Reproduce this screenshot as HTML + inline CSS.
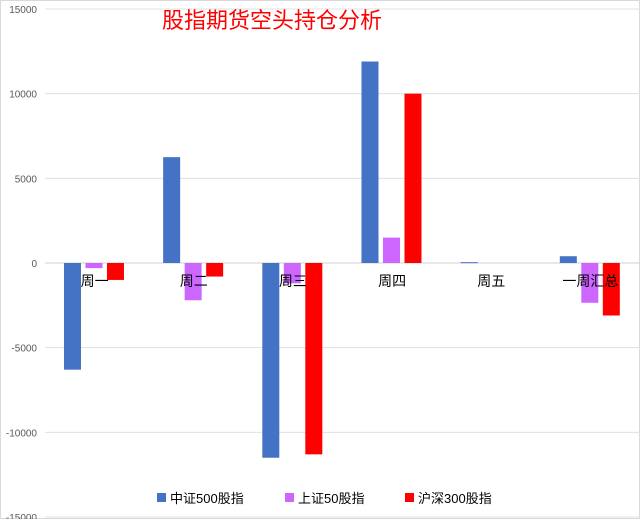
<!DOCTYPE html>
<html><head><meta charset="utf-8"><style>
html,body{margin:0;padding:0;background:#fff;}
body{width:640px;height:519px;overflow:hidden;font-family:"Liberation Sans","Noto Sans CJK SC",sans-serif;}
</style></head><body>
<svg id="chart" width="640" height="519" xmlns="http://www.w3.org/2000/svg" style="font-family:'Liberation Sans','Noto Sans CJK SC',sans-serif">
<rect x="0.5" y="0.5" width="639" height="518" fill="#fff" stroke="#d9d9d9"/>
<g id="grid"></g><g id="bars"></g><g id="labels"></g>
<text x="272" y="28" text-anchor="middle" font-size="22" fill="#ff0000">股指期货空头持仓分析</text>
<g font-size="13" fill="#000">
<rect x="157" y="493" width="9" height="9" fill="#4472c4"/>
<text x="170" y="503">中证500股指</text>
<rect x="285" y="493" width="9" height="9" fill="#cc66ff"/>
<text x="298" y="503">上证50股指</text>
<rect x="405" y="493" width="9" height="9" fill="#ff0000"/>
<text x="418" y="503">沪深300股指</text>
</g>
</svg>
<script>
const categories=["周一","周二","周三","周四","周五","一周汇总"];
const csi500=[-6300,6250,-11500,11900,50,400];
const sse50=[-300,-2200,-1200,1500,0,-2350];
const csi300=[-1000,-800,-11300,10000,0,-3100];
const ticks=[15000,10000,5000,0,-5000,-10000,-15000];
const NS="http://www.w3.org/2000/svg";
const x0=45,x1=640,band=(x1-x0)/categories.length;
function y(v){return 263-v*(254/15000);}
function xc(i){return x0+band*(i+0.5);}
const grid=document.getElementById('grid'),bars=document.getElementById('bars'),labels=document.getElementById('labels');
ticks.forEach(t=>{
 const l=document.createElementNS(NS,'line');
 l.setAttribute('x1',x0);l.setAttribute('x2',x1);l.setAttribute('y1',y(t));l.setAttribute('y2',y(t));
 l.setAttribute('stroke',t===0?'#d0d0d0':'#e0e0e0');
 
 
 grid.appendChild(l);
 const tx=document.createElementNS(NS,'text');
 tx.setAttribute('x',37);tx.setAttribute('y',y(t)+4);tx.setAttribute('text-anchor','end');
 tx.setAttribute('font-size','10');tx.setAttribute('fill','#595959');tx.textContent=t;
 
 
 grid.appendChild(tx);
});
const series=[[csi500,'#4472c4','bar-csi500'],[sse50,'#cc66ff','bar-sse50'],[csi300,'#ff0000','bar-csi300']];
categories.forEach((c,i)=>{
 series.forEach((s,k)=>{
  const v=s[0][i];const r=document.createElementNS(NS,'rect');
  const bx=xc(i)-30.6+k*21.5;
  r.setAttribute('x',bx);r.setAttribute('width',17);
  r.setAttribute('y',Math.min(y(v),y(0)));r.setAttribute('height',Math.max(Math.abs(y(v)-y(0)),v!==0?1:0));
  r.setAttribute('fill',s[1]);
  
  
  bars.appendChild(r);
 });
 const t=document.createElementNS(NS,'text');
 t.setAttribute('x',xc(i));t.setAttribute('y',286);t.setAttribute('text-anchor','middle');
 t.setAttribute('font-size','14');t.setAttribute('fill','#000');t.textContent=c;
 
 
 labels.appendChild(t);
});
</script>
</body></html>
